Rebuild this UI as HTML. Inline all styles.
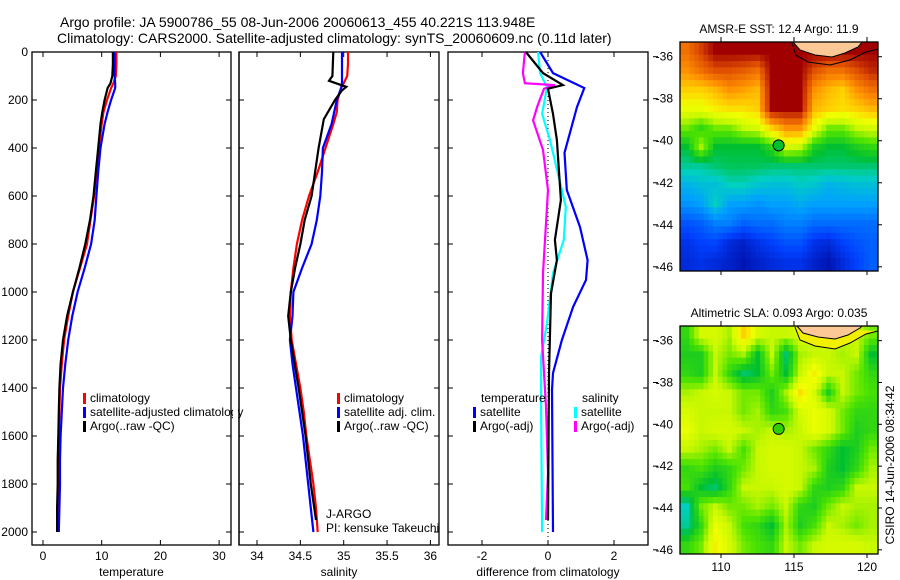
<!DOCTYPE html>
<html><head><meta charset="utf-8">
<style>
body{margin:0;background:#fff;}
svg{display:block;font-family:"Liberation Sans",sans-serif;}
text{fill:#000;}
</style></head>
<body>
<svg id="fig" width="900" height="580" viewBox="0 0 900 580" xmlns="http://www.w3.org/2000/svg">
<text x="60" y="27" font-size="14">Argo profile: JA 5900786_55 08-Jun-2006 20060613_455 40.221S 113.948E</text>
<text x="57" y="43" font-size="14">Climatology: CARS2000. Satellite-adjusted climatology: synTS_20060609.nc (0.11d later)</text>
<g id="g"></g>
</svg>
<script>
// ---------- data ----------
const depths = [0,50,100,130,150,200,250,300,400,500,600,700,800,900,1000,1100,1200,1300,1400,1500,1600,1700,1800,1900,2000];
const tempClim = [12.5,12.5,12.4,12.0,11.6,10.9,10.3,10.0,9.5,9.1,8.7,8.1,7.5,6.3,5.1,4.3,3.6,3.2,2.9,2.8,2.7,2.6,2.6,2.5,2.5];
const tempSat  = [12.2,12.2,12.2,12.3,12.3,11.6,11.0,10.5,9.8,9.4,9.1,8.8,8.2,7.1,5.9,5.0,4.3,3.8,3.4,3.2,3.0,2.9,2.9,2.8,2.7];
const tempArgo = [11.9,11.9,11.8,11.5,11.0,10.5,10.1,9.8,9.4,9.0,8.6,8.0,7.2,6.2,5.1,4.1,3.4,3.0,2.8,2.7,2.6,2.5,2.5,2.4,2.4];
const salClim = [35.05,35.05,35.04,35.0,34.97,34.93,34.92,34.88,34.79,34.7,34.6,34.52,34.46,34.42,34.39,34.38,34.4,34.45,34.5,34.54,34.57,34.61,34.65,34.68,34.7];
const salSat  = [34.98,34.98,34.98,34.98,34.97,34.92,34.89,34.86,34.76,34.75,34.73,34.69,34.63,34.52,34.42,34.41,34.38,34.41,34.45,34.49,34.53,34.56,34.59,34.62,34.65];
const salArgoDepth = [0,100,120,135,145,160,200,280,400,500,600,700,800,900,1000,1100,1200,1400,1600,1800,1950];
const salArgo = [34.88,34.87,34.83,34.95,35.03,34.98,34.9,34.77,34.71,34.67,34.63,34.55,34.5,34.44,34.39,34.36,34.39,34.48,34.56,34.62,34.68];
const dTempSatDepth = [0,88,150,229,420,575,729,867,950,1062,1200,1338,1408,2000];
const dTempSat = [-0.24,0.15,1.1,0.88,0.5,0.57,0.97,1.2,1.15,0.76,0.42,0.15,0.12,0.15];
const dTempArgoDepth = [0,88,138,153,258,367,617,783,867,1006,1340,1950];
const dTempArgo = [-0.67,-0.15,0.45,0,0.15,0.27,0.39,0.21,0.27,0.09,0.03,0];
const dSalSatDepth = [0,88,146,258,367,645,783,922,1131,1270,1478,2000];
const dSalSat = [-0.3,-0.24,-0.03,-0.18,0.06,0.54,0.48,0.15,-0.03,-0.21,-0.21,-0.18];
const dSalArgoDepth = [0,88,130,138,153,229,285,408,575,922,1200,1478,1756,1950];
const dSalArgo = [-0.7,-0.76,-0.7,0.21,-0.12,-0.33,-0.45,-0.15,0,-0.15,-0.18,-0.06,0,-0.06];
const depthTicks = [0,200,400,600,800,1000,1200,1400,1600,1800,2000];
const tempTicks = [0,10,20,30];
const salTicks = [34,34.5,35,35.5,36];
const diffTicks = [-2,0,2];
const lonTicks = [110,115,120];
const latTicks = [36,38,40,42,44,46];
const sstGrid = [
[0.85,0.92,1,1,1,1,1,1,1,1,1,1,1,1],
[0.8,0.85,0.9,0.9,0.88,0.85,1,1,1,0.9,0.85,0.85,0.9,0.95],
[0.72,0.72,0.75,0.8,0.78,0.75,1,1,1,0.8,0.75,0.72,0.8,0.85],
[0.65,0.65,0.68,0.7,0.7,0.72,1,1,1,0.75,0.72,0.7,0.72,0.75],
[0.55,0.5,0.55,0.55,0.6,0.62,0.72,0.8,0.8,0.65,0.55,0.55,0.6,0.62],
[0.45,0.58,0.45,0.45,0.45,0.45,0.5,0.62,0.6,0.48,0.45,0.45,0.48,0.5],
[0.4,0.4,0.42,0.43,0.43,0.43,0.42,0.42,0.42,0.42,0.42,0.42,0.42,0.42],
[0.33,0.35,0.35,0.38,0.38,0.36,0.35,0.35,0.37,0.36,0.33,0.34,0.35,0.35],
[0.28,0.3,0.38,0.3,0.3,0.28,0.3,0.3,0.32,0.3,0.3,0.3,0.3,0.3],
[0.18,0.2,0.25,0.25,0.2,0.22,0.22,0.25,0.25,0.22,0.22,0.22,0.22,0.22],
[0.12,0.15,0.16,0.1,0.08,0.12,0.15,0.18,0.18,0.12,0.1,0.15,0.18,0.2],
[0.1,0.12,0.1,0.08,0.05,0.08,0.1,0.12,0.12,0.08,0.05,0.1,0.15,0.2]];
const slaGrid = [
[0.5,0.62,0.62,0.58,0.72,0.62,0.6,0.6,0.62,0.6,0.6,0.6,0.6,0.55],
[0.48,0.48,0.6,0.55,0.58,0.45,0.6,0.42,0.58,0.6,0.6,0.58,0.6,0.45],
[0.5,0.48,0.6,0.5,0.42,0.45,0.55,0.45,0.6,0.68,0.6,0.6,0.55,0.5],
[0.58,0.6,0.62,0.6,0.55,0.55,0.48,0.58,0.7,0.62,0.48,0.6,0.55,0.52],
[0.62,0.6,0.6,0.6,0.55,0.58,0.5,0.52,0.62,0.65,0.62,0.55,0.5,0.5],
[0.65,0.6,0.62,0.62,0.6,0.58,0.6,0.58,0.6,0.65,0.62,0.55,0.48,0.5],
[0.6,0.58,0.55,0.6,0.52,0.6,0.62,0.62,0.6,0.55,0.5,0.45,0.48,0.55],
[0.5,0.52,0.48,0.5,0.55,0.6,0.62,0.62,0.6,0.58,0.48,0.45,0.5,0.58],
[0.52,0.45,0.42,0.5,0.6,0.6,0.6,0.62,0.6,0.5,0.48,0.5,0.6,0.6],
[0.38,0.55,0.6,0.55,0.55,0.58,0.55,0.6,0.5,0.48,0.55,0.6,0.58,0.58],
[0.4,0.5,0.65,0.6,0.52,0.5,0.45,0.58,0.48,0.52,0.6,0.58,0.55,0.58],
[0.5,0.55,0.68,0.62,0.55,0.52,0.5,0.6,0.55,0.6,0.62,0.62,0.62,0.6]];

// ---------- helpers ----------
const NS="http://www.w3.org/2000/svg";
const G=document.getElementById('g');
function mk(tag,attrs,parent){const e=document.createElementNS(NS,tag);for(const k in attrs)e.setAttribute(k,attrs[k]);(parent||G).appendChild(e);return e;}
const yD=d=>52+d*0.24;
const PLOT_TOP=52, PLOT_BOT=545;

function panel(name,x0,x1,xs,ticks,label,showY){
  const r=mk('rect',{x:x0,y:PLOT_TOP,width:x1-x0,height:PLOT_BOT-PLOT_TOP,fill:'none',stroke:'#000','stroke-width':1.3});
  
  
  ticks.forEach(t=>{
    const x=xs(t);
    mk('line',{x1:x,x2:x,y1:PLOT_TOP,y2:PLOT_TOP+5,stroke:'#000'});
    mk('line',{x1:x,x2:x,y1:PLOT_BOT,y2:PLOT_BOT-5,stroke:'#000'});
    const tx=mk('text',{x:x,y:560,'font-size':12,'text-anchor':'middle'});
    tx.textContent=t;
    
    
  });
  depthTicks.forEach(d=>{
    const y=yD(d);
    mk('line',{x1:x0,x2:x0+5,y1:y,y2:y,stroke:'#000'});
    mk('line',{x1:x1,x2:x1-5,y1:y,y2:y,stroke:'#000'});
    if(showY){
      const tx=mk('text',{x:28,y:y+4,'font-size':12,'text-anchor':'end'});
      tx.textContent=d;
      
      
    }
  });
  const lb=mk('text',{x:(x0+x1)/2,y:576,'font-size':12,'text-anchor':'middle'});
  lb.textContent=label;
  
  
}
function series(name,xs,ds,vs,color){
  const pts=ds.map((d,i)=>xs(vs[i]).toFixed(1)+','+yD(d).toFixed(1)).join(' ');
  const p=mk('polyline',{points:pts,fill:'none',stroke:color,'stroke-width':2.2});
  
  
}
function legend(name,x,y,color,label){
  const r=mk('rect',{x:x,y:y-9,width:3,height:11,fill:color});
  
  
  const t=mk('text',{x:x+7,y:y,'font-size':12});
  t.textContent=label;
  
  
}
function txt(name,x,y,s,extra){const t=mk('text',Object.assign({x:x,y:y,'font-size':12},extra||{}));t.textContent=s;return t;}

// ---------- temperature ----------
const xT=v=>43+v*5.87;
panel('temperature-panel',32,231,xT,tempTicks,'temperature',true);
series('temp-climatology-line',xT,depths,tempClim,'#ff0000');
series('temp-satellite-line',xT,depths,tempSat,'#0000ff');
series('temp-argo-line',xT,depths,tempArgo,'#000000');
legend('legend-climatology',83,402,'#ff0000','climatology');
legend('legend-satellite-adjusted',83,416,'#0000ff','satellite-adjusted climatology');
legend('legend-argo',83,430,'#000000','Argo(..raw -QC)');
mk('rect',{x:233,y:400,width:5,height:30,fill:'#fff'});
mk('line',{x1:239,x2:239,y1:52,y2:545,stroke:'#000','stroke-width':1.3});

// ---------- salinity ----------
const xS=v=>257+(v-34)*86.7;
panel('salinity-panel',239,439,xS,salTicks,'salinity',false);
series('sal-climatology-line',xS,depths,salClim,'#ff0000');
series('sal-satellite-line',xS,depths,salSat,'#0000ff');
series('sal-argo-line',xS,salArgoDepth,salArgo,'#000000');
legend('sal-legend-climatology',337,402,'#ff0000','climatology');
legend('sal-legend-satellite',337,416,'#0000ff','satellite adj. clim.');
legend('sal-legend-argo',337,430,'#000000','Argo(..raw -QC)');
txt('float-program-label',326,518,'J-ARGO');
txt('pi-name-label',326,532,'PI: kensuke Takeuchi');

// ---------- difference ----------
const xDf=v=>548+v*33;
panel('difference-panel',448,648,xDf,diffTicks,'difference from climatology',false);
mk('line',{x1:548,x2:548,y1:52,y2:545,stroke:'#000','stroke-dasharray':'1,3'});
series('diff-temp-satellite-line',xDf,dTempSatDepth,dTempSat,'#0000ff');
series('diff-sal-satellite-line',xDf,dSalSatDepth,dSalSat,'#00ffff');
series('diff-sal-argo-line',xDf,dSalArgoDepth,dSalArgo,'#ff00ff');
series('diff-temp-argo-line',xDf,dTempArgoDepth,dTempArgo,'#000000');
txt('diff-legend-temperature-heading',481,402,'temperature');
txt('diff-legend-salinity-heading',582,402,'salinity');
legend('diff-legend-temp-satellite',473,416,'#0000ff','satellite');
legend('diff-legend-temp-argo',473,430,'#000000','Argo(-adj)');
legend('diff-legend-sal-satellite',574,416,'#00ffff','satellite');
legend('diff-legend-sal-argo',574,430,'#ff00ff','Argo(-adj)');

// ---------- maps ----------
const cstops=[[0,[0,0,143]],[0.15,[0,64,255]],[0.3,[0,160,255]],[0.38,[0,208,192]],[0.45,[0,192,48]],[0.53,[80,228,0]],[0.6,[200,248,0]],[0.66,[240,255,0]],[0.72,[255,208,0]],[0.8,[255,144,0]],[0.9,[224,80,0]],[1,[160,0,0]]];
function cmap(v){for(let i=1;i<cstops.length;i++){if(v<=cstops[i][0]){const a=cstops[i-1],b=cstops[i];const f=(v-a[0])/(b[0]-a[0]);const c=a[1].map((x,j)=>Math.round(x+(b[1][j]-x)*f));return 'rgb('+c+')';}}return 'rgb(160,0,0)';}
function sample(grid,r,c){
  const R=grid.length,C=grid[0].length;
  r=Math.max(0,Math.min(R-1,r));c=Math.max(0,Math.min(C-1,c));
  const r0=Math.floor(r),c0=Math.floor(c),r1=Math.min(R-1,r0+1),c1=Math.min(C-1,c0+1),fr=r-r0,fc=c-c0;
  return (grid[r0][c0]*(1-fc)+grid[r0][c1]*fc)*(1-fr)+(grid[r1][c0]*(1-fc)+grid[r1][c1]*fc)*fr;
}
function map(name,top,bot,grid,title,dotColor,landPts,coast,outer,outerFill){
  const x0=680,x1=878;
  const lonX=l=>721+(l-110)*14.6;
  const latY=l=>top+(l-35.3)*(bot-top)/10.9;
  const rows=grid.length, cols=grid[0].length, S=3;
  const cw=(x1-x0)/(cols*S), ch=(bot-top)/(rows*S);
  const cg=mk('g',{});
  
  
  for(let i=0;i<rows*S;i++)for(let j=0;j<cols*S;j++){
    const v=sample(grid,(i+0.5)/S-0.5,(j+0.5)/S-0.5);
    mk('rect',{x:(x0+j*cw).toFixed(2),y:(top+i*ch).toFixed(2),width:(cw+0.5).toFixed(2),height:(ch+0.5).toFixed(2),fill:cmap(v)},cg);
  }
  if(outerFill){mk('polygon',{points:outer,fill:outerFill});}
  const land=mk('polygon',{points:landPts,fill:'#fcc896'});
  
  
  mk('polyline',{points:coast,fill:'none',stroke:'#000','stroke-width':1});
  mk('polyline',{points:outer,fill:'none',stroke:'#000','stroke-width':1});
  const fr=mk('rect',{x:x0,y:top,width:x1-x0,height:bot-top,fill:'none',stroke:'#000','stroke-width':1.3});
  
  
  lonTicks.forEach(l=>{const x=lonX(l);mk('line',{x1:x,x2:x,y1:top,y2:top-5,stroke:'#000'});mk('line',{x1:x,x2:x,y1:bot,y2:bot+4,stroke:'#000'});});
  latTicks.forEach(l=>{const y=latY(l);mk('line',{x1:653,x2:658,y1:y,y2:y,stroke:'#000'});mk('line',{x1:x1,x2:x1+4,y1:y,y2:y,stroke:'#000'});
    txt(name+'-lat-label',673,y+4,'-'+l,{'text-anchor':'end'});});
  const dot=mk('circle',{cx:lonX(113.948),cy:latY(40.221),r:5.5,fill:dotColor,stroke:'#000','stroke-width':1});
  
  
  txt(name+'-title',779,top-9,title,{'text-anchor':'middle'});
  return lonX;
}
map('sst-map',42,271,sstGrid,'AMSR-E SST: 12.4 Argo: 11.9','#00c030',
  '793,42 800,50 815,55 832,57 845,53 858,47 862,42',
  '793,42 800,50 815,55 832,57 845,53 858,47 862,42',
  '792,43 796,55 808,62 830,65 850,60 866,52 878,49',null);
const lonX2=map('sla-map',326,554,slaGrid,'Altimetric SLA: 0.093 Argo: 0.035','#30d000',
  '797,326 803,333 818,337 835,339 848,335 860,328 862,326',
  '797,326 803,333 818,337 835,339 848,335 860,328 862,326',
  '795,327 800,340 815,346 835,349 850,343 866,334 878,331','#f0f000');
lonTicks.forEach(l=>txt('sla-map-lon-label',lonX2(l),571,String(l),{'text-anchor':'middle'}));
txt('timestamp-label',0,0,'CSIRO 14-Jun-2006 08:34:42',{'text-anchor':'middle',transform:'translate(894,465) rotate(-90)'});
</script>
</body></html>
